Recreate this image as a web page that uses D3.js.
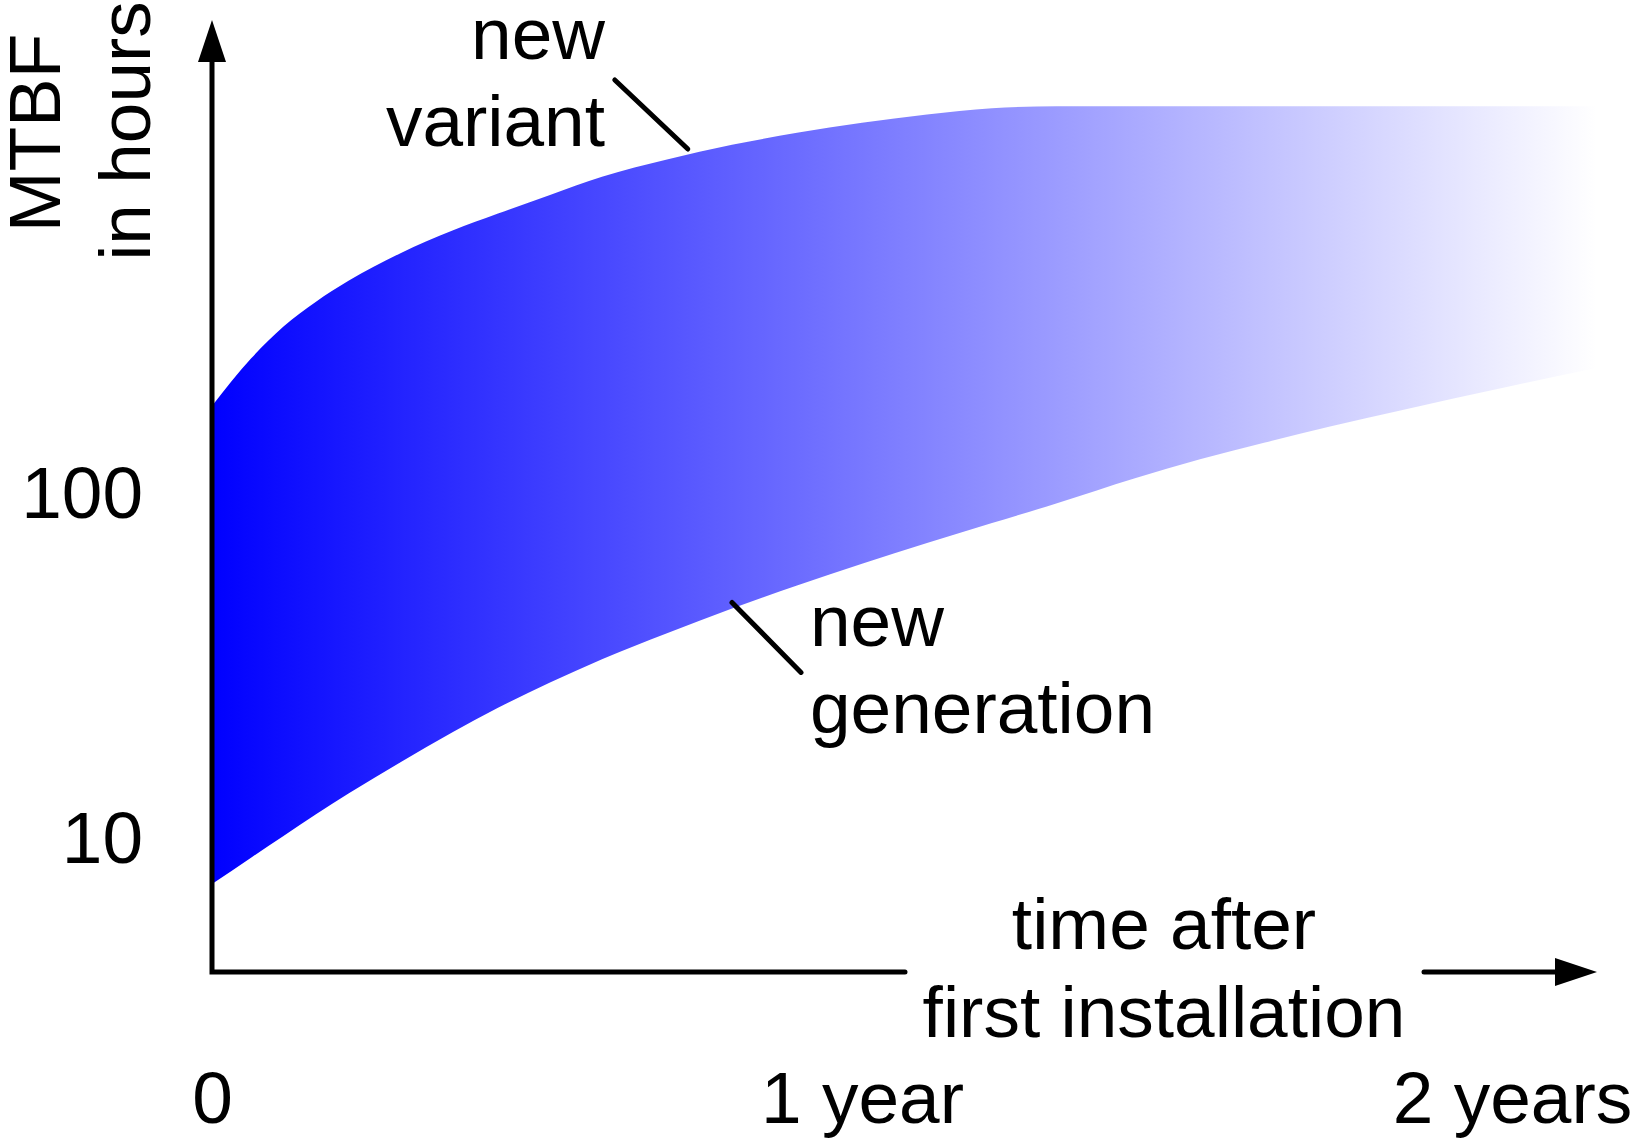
<!DOCTYPE html>
<html>
<head>
<meta charset="utf-8">
<script src="https://cdn.jsdelivr.net/npm/d3@7"></script>
<style>
  body { margin: 0; background: #fff; }
  svg { display: block; }
  text { font-family: "Liberation Sans", Arial, sans-serif; fill: #000; }
</style>
</head>
<body>
<svg id="chart"></svg>
<script>
// time after first installation, in years
const years = [0, 0.06, 0.11, 0.16, 0.21, 0.29, 0.37, 0.44, 0.52, 0.6, 0.7, 0.8, 0.9, 1.0, 1.1, 1.2, 1.3, 1.42, 1.52, 1.62, 1.72, 1.83, 1.99, 2.13];
// MTBF in hours, upper edge of the band
const newVariant = [180, 247, 306, 361, 415, 499, 580, 650, 736, 831, 933, 1028, 1114, 1191, 1259, 1312, 1330, 1330, 1330, 1330, 1330, 1330, 1330, 1330];
// MTBF in hours, lower edge of the band
const newGeneration = [7.4, 8.83, 10.2, 11.8, 13.55, 16.7, 20.4, 24.0, 28.4, 33.2, 39.5, 46.6, 54.3, 62.8, 72.1, 82.4, 94, 111, 126, 141, 157, 175, 204, 232];

const xTicks = [0, 1, 2];
const xTickLabels = ["0", "1 year", "2 years"];
const yTicks = [10, 100];

const width = 1635,
  height = 1139;
const fontSize = 73;

const svg = d3.select("#chart").attr("width", width).attr("height", height);

const x = d3.scaleLinear().domain([0, 2]).range([212, 1512]);
const y = d3.scaleLog().domain([10, 100]).range([839, 494]);

const x0 = x(0),
  yBase = 972;

// gradient fill, blue fading to white
const grad = svg
  .append("defs")
  .append("linearGradient")
  .attr("id", "band")
  .attr("gradientUnits", "userSpaceOnUse")
  .attr("x1", x0)
  .attr("x2", x(d3.max(years)))
  .attr("y1", 0)
  .attr("y2", 0);
grad.append("stop").attr("offset", 0).attr("stop-color", "#0000ff");
grad.append("stop").attr("offset", 1).attr("stop-color", "#ffffff");

const band = years.map((t, i) => ({ t: t, lo: newGeneration[i], hi: newVariant[i] }));

const area = d3
  .area()
  .x((d) => x(d.t))
  .y0((d) => y(d.lo))
  .y1((d) => y(d.hi))
  .curve(d3.curveMonotoneX);

svg.append("path").attr("d", area(band)).attr("fill", "url(#band)");

// axes lines with arrows
const axisG = svg.append("g").attr("stroke", "#000").attr("stroke-width", 5).attr("fill", "none");
axisG
  .append("path")
  .attr("d", `M${x0},62 L${x0},${yBase} L905,${yBase}`)
  .attr("stroke-linecap", "round");
axisG
  .append("path")
  .attr("d", `M1424,${yBase} L1560,${yBase}`)
  .attr("stroke-linecap", "round");

svg
  .append("path")
  .attr("d", `M${x0},20 L${x0 + 14},62 L${x0 - 14},62 Z`)
  .attr("fill", "#000");
svg
  .append("path")
  .attr("d", `M1597,${yBase} L1555,${yBase - 14} L1555,${yBase + 14} Z`)
  .attr("fill", "#000");

// tick labels
const xAxis = d3
  .axisBottom(x)
  .tickValues(xTicks)
  .tickFormat((d, i) => xTickLabels[i])
  .tickSize(0)
  .tickPadding(99);
const gx = svg.append("g").attr("transform", `translate(0,${yBase})`).call(xAxis);
gx.select(".domain").remove();
gx.selectAll("text").style("font-size", fontSize + "px").attr("fill", "#000");

const yAxis = d3
  .axisLeft(y)
  .tickValues(yTicks)
  .tickFormat(d3.format("d"))
  .tickSize(0)
  .tickPadding(69);
const gy = svg.append("g").attr("transform", `translate(${x0},0)`).call(yAxis);
gy.select(".domain").remove();
gy.selectAll("text").style("font-size", fontSize + "px").attr("fill", "#000");

// axis titles
svg
  .append("text")
  .attr("transform", "translate(60,133) rotate(-90)")
  .attr("text-anchor", "middle")
  .style("font-size", fontSize + "px")
  .text("MTBF");
svg
  .append("text")
  .attr("transform", "translate(150,131) rotate(-90)")
  .attr("text-anchor", "middle")
  .style("font-size", fontSize + "px")
  .text("in hours");

svg
  .append("text")
  .attr("x", 1164)
  .attr("y", 949)
  .attr("text-anchor", "middle")
  .style("font-size", fontSize + "px")
  .text("time after");
svg
  .append("text")
  .attr("x", 1164)
  .attr("y", 1037)
  .attr("text-anchor", "middle")
  .style("font-size", fontSize + "px")
  .text("first installation");

// annotations
const leaders = [
  { t: 0.732, v: 1000, dx: -73, dy: -69 },
  { t: 0.8, v: 48.5, dx: 69, dy: 70 },
];
svg
  .selectAll(".leader")
  .data(leaders)
  .join("line")
  .attr("class", "leader")
  .attr("x1", (d) => x(d.t))
  .attr("y1", (d) => y(d.v))
  .attr("x2", (d) => x(d.t) + d.dx)
  .attr("y2", (d) => y(d.v) + d.dy)
  .attr("stroke", "#000")
  .attr("stroke-width", 5)
  .attr("stroke-linecap", "round");

svg.append("text").attr("x", 605).attr("y", 59).attr("text-anchor", "end").style("font-size", fontSize + "px").text("new");
svg.append("text").attr("x", 605).attr("y", 146).attr("text-anchor", "end").style("font-size", fontSize + "px").text("variant");
svg.append("text").attr("x", 810).attr("y", 646).style("font-size", fontSize + "px").text("new");
svg.append("text").attr("x", 810).attr("y", 733).style("font-size", fontSize + "px").text("generation");
</script>
</body>
</html>
